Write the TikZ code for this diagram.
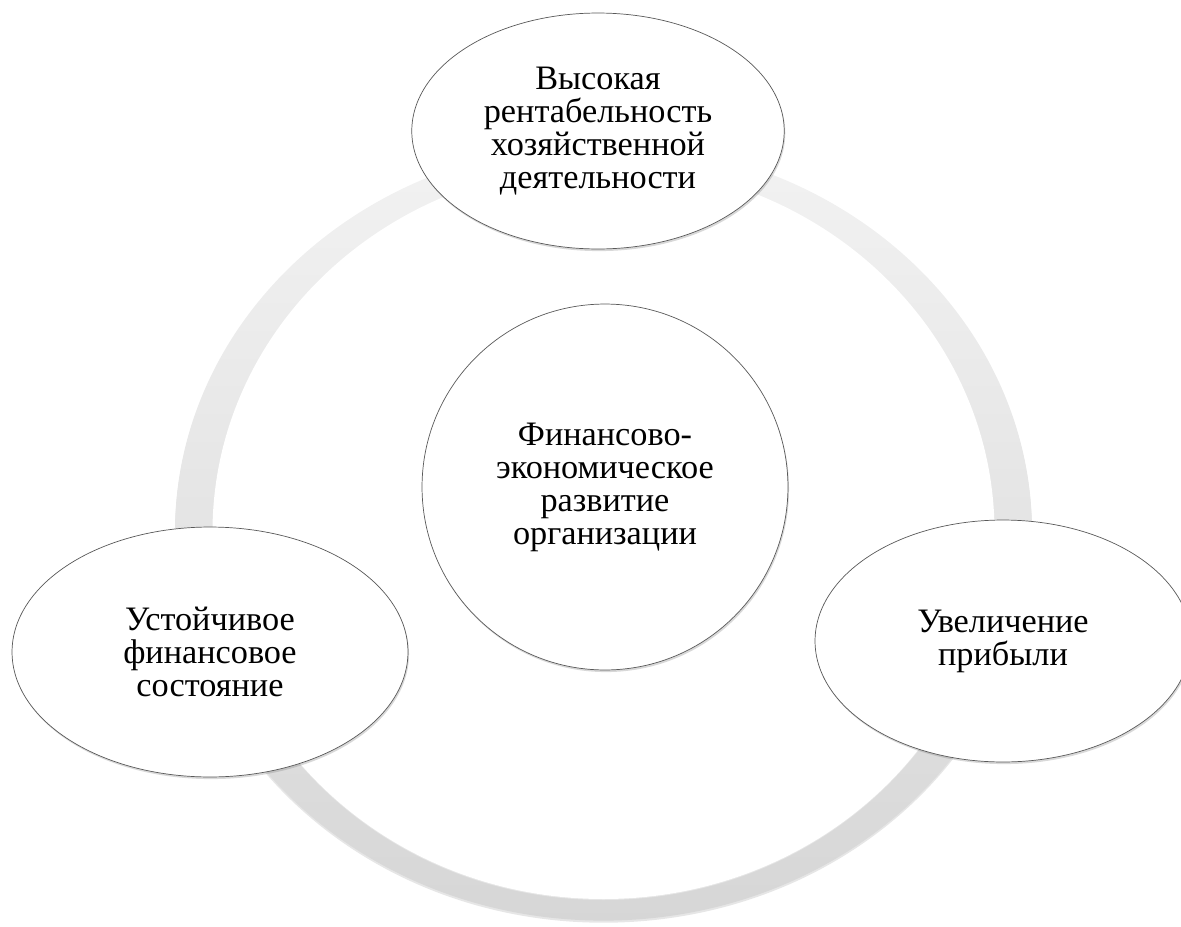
\documentclass[tikz,border=0pt]{standalone}
\usepackage{fontspec}
\setmainfont{Liberation Serif}
\usetikzlibrary{shapes.geometric,shadows}
\tikzset{node distance=3cm, auto,
  bubble/.style={ellipse, draw=black!65, line width=0.4pt, fill=white,
    align=center, inner sep=0pt, font=\fontsize{19.5}{18.8}\selectfont,
    drop shadow={opacity=0.3, shadow xshift=0.6pt, shadow yshift=-1.2pt}},
  band/.style={top color=black!5, bottom color=black!16}}

\begin{document}
\begin{tikzpicture}[x=0.02cm, y=-0.02cm]
        \useasboundingbox (0,0) rectangle (1181,927);

        \shade[band, drop shadow={opacity=0.2, shadow xshift=0pt, shadow yshift=-1.2pt}]
            (603.5,532) ellipse (428.5 and 388.6);
        \fill[black!10] (603.5,533) ellipse (391 and 367);
        \fill[white] (603.5,532) ellipse (391 and 367);

        \node[bubble, minimum width=7.32cm, minimum height=7.32cm] (Razv) at (605,487)
            {Финансово-\\экономическое\\развитие\\организации};
        \node[bubble, minimum width=7.45cm, minimum height=4.72cm] (Rent) at (598,131)
            {Высокая\\рентабельность\\хозяйственной\\деятельности};
        \node[bubble, minimum width=7.92cm, minimum height=5cm]    (Ust)  at (210,652)
            {Устойчивое\\финансовое\\состояние};
        \node[bubble, minimum width=7.52cm, minimum height=4.84cm] (Prib) at (1003,641)
            {Увеличение\\прибыли};
\end{tikzpicture}
\end{document}
